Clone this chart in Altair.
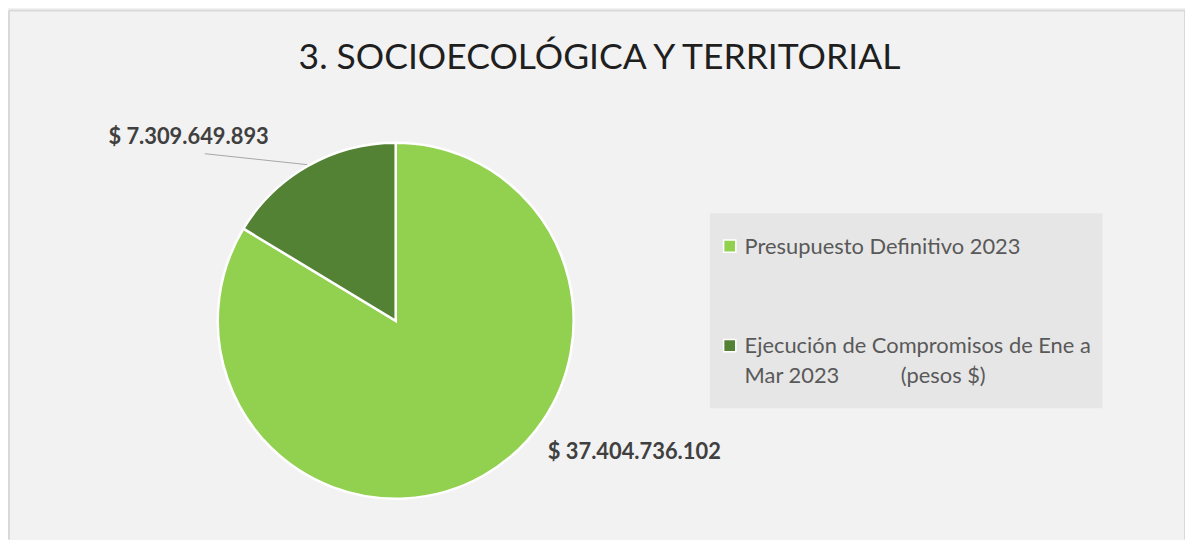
import altair as alt
import pandas as pd

# ---- data -------------------------------------------------------------
title_text = "3. SOCIOECOLÓGICA Y TERRITORIAL"
categories = [
    "Presupuesto Definitivo 2023",
    "Ejecución de Compromisos de Ene a Mar 2023 (pesos $)",
]
values = [37404736102, 7309649893]
legend_lines = [
    ["Presupuesto Definitivo 2023"],
    ["Ejecución de Compromisos de Ene a", "Mar 2023" + "\u00a0" * 11 + "(pesos $)"],
]
colors = ["#92D050", "#548235"]


def fmt(v):
    return "$ " + f"{v:,}".replace(",", ".")


df = pd.DataFrame(
    {
        "cat": categories,
        "value": values,
        "ord": list(range(len(categories))),
        "label": [fmt(v) for v in values],
        "lines": legend_lines,
    }
)

FONT = "Lato"
W, H = 1184, 532

color_scale = alt.Scale(domain=categories, range=colors)
base = alt.Chart(df)
one = base.transform_filter(alt.datum.ord == 0)

# legend box background
legend_bg = one.mark_rect(color="#E6E6E6").encode(
    x=alt.value(705), x2=alt.value(1100), y=alt.value(204), y2=alt.value(400)
)

# frame (left, top, right)
frame_left = one.mark_rule(color="#D9D9D9", strokeWidth=2).encode(
    x=alt.value(0), x2=alt.value(0), y=alt.value(0), y2=alt.value(H)
)
frame_top = one.mark_rule(color="#D9D9D9", strokeWidth=2).encode(
    x=alt.value(0), x2=alt.value(W), y=alt.value(0), y2=alt.value(0)
)
frame_right = one.mark_rule(color="#D9D9D9", strokeWidth=2).encode(
    x=alt.value(W - 1), x2=alt.value(W - 1), y=alt.value(0), y2=alt.value(H)
)

pie = base.mark_arc(stroke="white", strokeWidth=2.5, outerRadius=179).encode(
    theta=alt.Theta("value:Q", stack=True),
    color=alt.Color("cat:N", scale=color_scale, legend=None),
    order=alt.Order("ord:Q"),
    x=alt.value(389),
    y=alt.value(312),
)

title = one.mark_text(
    font=FONT, fontSize=35.7, color="#1F1F1F", align="center", baseline="alphabetic"
).encode(x=alt.value(594), y=alt.value(59), text=alt.value(title_text))

lbl_light = one.mark_text(
    font=FONT, fontSize=22, fontWeight="bold", color="#404040", align="left",
    baseline="alphabetic",
).encode(x=alt.value(542), y=alt.value(451), text="label:N")

lbl_dark = base.transform_filter(alt.datum.ord == 1).mark_text(
    font=FONT, fontSize=22, fontWeight="bold", color="#404040", align="left",
    baseline="alphabetic",
).encode(x=alt.value(100), y=alt.value(134), text="label:N")

leader = base.transform_filter(alt.datum.ord == 1).mark_rule(
    color="#A6A6A6", strokeWidth=1
).encode(x=alt.value(197), y=alt.value(144), x2=alt.value(300), y2=alt.value(155))

ypos = alt.Y(
    "cat:N",
    scale=alt.Scale(type="point", domain=categories, range=[237, 337], padding=0),
    axis=None,
)

leg_sym = base.mark_square(size=150, stroke="white", strokeWidth=1.5, opacity=1).encode(
    x=alt.value(725),
    y=ypos,
    color=alt.Color("cat:N", scale=color_scale, legend=None),
)

leg_txt = base.mark_text(
    font=FONT, fontSize=22, color="#595959", align="left", baseline="alphabetic",
    dy=7.5, lineHeight=30,
).encode(x=alt.value(740), y=ypos, text="lines")

chart = (
    alt.layer(
        legend_bg, pie, leader, lbl_light, lbl_dark, title, leg_sym, leg_txt,
        frame_left, frame_top, frame_right,
    )
    .properties(
        width=W,
        height=H,
        padding=0,
        background="#F2F2F2",
        autosize=alt.AutoSizeParams(type="fit", contains="padding"),
    )
    .configure_view(strokeWidth=0)
)

chart.save("out.html", embed_options={"renderer": "svg", "actions": False})
